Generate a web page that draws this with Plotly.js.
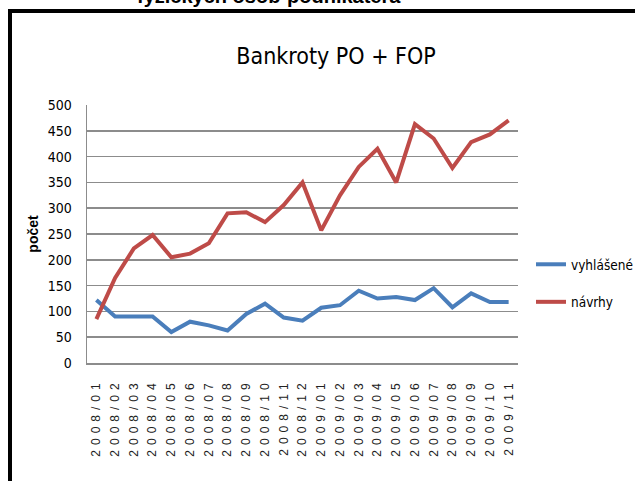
<!DOCTYPE html>
<html>
<head>
<meta charset="utf-8">
<script src="https://cdn.plot.ly/plotly-3.0.1.min.js"></script>
<style>
html,body{margin:0;padding:0;background:#fff;overflow:hidden;}
#chart{width:635px;height:481px;}
</style>
</head>
<body>
<div id="chart"></div>
<script>
const months = ["2008/01","2008/02","2008/03","2008/04","2008/05","2008/06","2008/07","2008/08","2008/09","2008/10","2008/11","2008/12",
                "2009/01","2009/02","2009/03","2009/04","2009/05","2009/06","2009/07","2009/08","2009/09","2009/10","2009/11"];
const vyhlasene = [122,90,90,90,60,80,73,63,95,115,88,82,107,112,140,125,128,122,145,108,135,118,118];
const navrhy = [85,165,222,248,205,212,232,290,292,273,306,350,257,325,380,415,350,463,435,378,428,443,470];
const seriesNames = ["vyhlášené","návrhy"];
const yTicks = [0,50,100,150,200,250,300,350,400,450,500];

const NARROW = "'Liberation Sans Narrow', 'DejaVu Sans Condensed', 'Arial Narrow', sans-serif";
const ARIAL = "'Liberation Sans', Arial, sans-serif";
const W = 635, H = 481, L = 87, R = 518, T = 105, B = 363;
const px = x => (x - L) / (R - L);
const py = y => (B - y) / (B - T);

const traces = [
  {x: months, y: vyhlasene, name: seriesNames[0], type: 'scatter', mode: 'lines',
   line: {color: '#4A7EBB', width: 4}, legendgroup: 'a'},
  {x: months, y: navrhy, name: seriesNames[1], type: 'scatter', mode: 'lines',
   line: {color: '#BE4B48', width: 4}, legendgroup: 'b'}
];

const layout = {
  width: W, height: H,
  margin: {l: L, r: W - R, t: T, b: H - B, pad: 0, autoexpand: false},
  paper_bgcolor: '#fff', plot_bgcolor: '#fff',
  showlegend: true,
  title: {text: 'Bankroty PO + FOP', x: 336 / W, xanchor: 'center', xref: 'container',
          y: 1 - 56 / H, yanchor: 'middle', yref: 'container',
          font: {family: NARROW, size: 23, color: '#000'}},
  xaxis: {type: 'category', range: [-0.5, months.length - 0.5], tickangle: -90,
          showgrid: false, showline: true, linecolor: '#8c8c8c', linewidth: 1.5,
          ticks: '', ticklabelstandoff: 9, automargin: false,
          tickfont: {family: ARIAL, size: 12, color: '#222'}},
  yaxis: {range: [0, 500], tickvals: yTicks, showgrid: true, gridcolor: '#8c8c8c', gridwidth: 1.5,
          showline: true, linecolor: '#8c8c8c', linewidth: 1.5, zeroline: false,
          ticks: '', ticklabelstandoff: 11, automargin: false,
          tickfont: {family: NARROW, size: 14, color: '#000'},
          title: {text: 'počet', standoff: 6, font: {family: ARIAL, size: 14, color: '#000', weight: 'bold'}}},
  legend: {x: px(531), xanchor: 'left', y: py(249), yanchor: 'top', bgcolor: 'rgba(0,0,0,0)',
           traceorder: 'grouped', tracegroupgap: 17,
           font: {family: NARROW, size: 13.5, color: '#000'}, itemwidth: 30},
  shapes: [
    {type: 'line', xref: 'paper', yref: 'paper', x0: px(8), x1: px(640), y0: py(11), y1: py(11),
     line: {color: '#000', width: 4}},
    {type: 'line', xref: 'paper', yref: 'paper', x0: px(10), x1: px(10), y0: py(9), y1: py(490),
     line: {color: '#000', width: 4}}
  ],
  annotations: [
    {text: '<b>fyzických osôb-podnikateľa</b>', xref: 'paper', yref: 'paper', x: px(269), y: py(9),
     xanchor: 'center', yanchor: 'bottom', showarrow: false,
     font: {family: ARIAL, size: 20, color: '#000'}}
  ]
};

Plotly.newPlot('chart', traces, layout, {displayModeBar: false, staticPlot: true}).then(() => {
  document.querySelectorAll('.xtick text').forEach(t => { t.style.letterSpacing = '5px'; });
});
</script>
</body>
</html>
